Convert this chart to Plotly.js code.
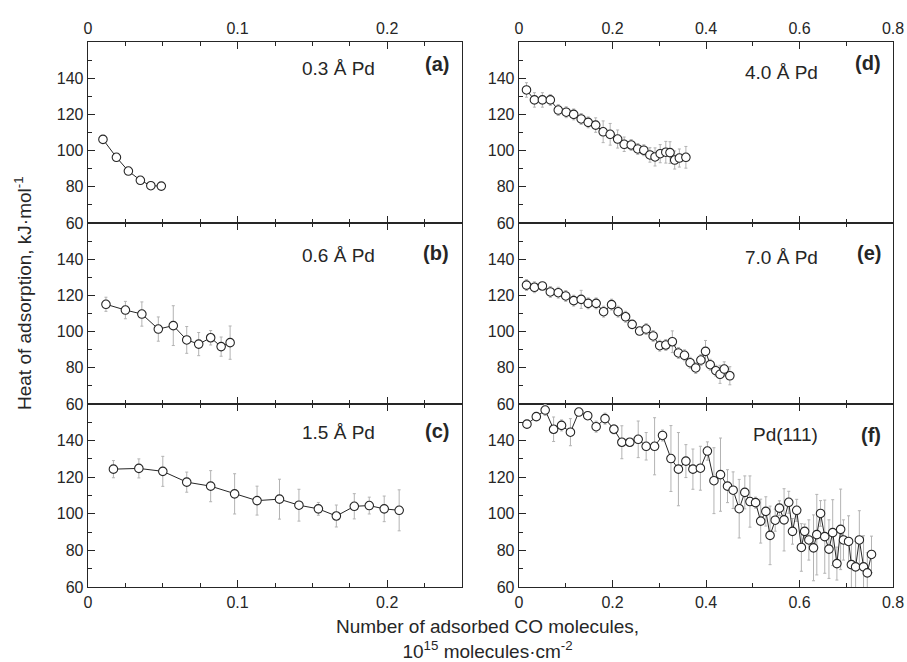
<!DOCTYPE html>
<html>
<head>
<meta charset="utf-8">
<script src="https://cdn.plot.ly/plotly-3.0.1.min.js"></script>
<style>html,body{margin:0;padding:0;background:#fff;}#chart{width:907px;height:662px;}</style>
</head>
<body>
<div id="chart"></div>
<script>
// Panel (a) 0.3 Å Pd
const xA = [0.010, 0.019, 0.027, 0.035, 0.042, 0.049];
const yA = [106.2, 96.3, 88.7, 83.6, 80.6, 80.4];

// Panel (b) 0.6 Å Pd
const xB = [0.012, 0.025, 0.036, 0.047, 0.057, 0.066, 0.074, 0.082, 0.089, 0.095];
const yB = [115.1, 111.9, 109.7, 101.4, 103.3, 95.4, 93.1, 96.6, 91.7, 93.9];
const eB = [3.9, 4.8, 6.7, 6.7, 11, 7.4, 6.4, 4, 5.3, 9.2];

// Panel (c) 1.5 Å Pd
const xC = [0.017, 0.034, 0.050, 0.066, 0.082, 0.098, 0.113, 0.128, 0.141, 0.154, 0.166, 0.178, 0.188, 0.198, 0.208];
const yC = [124.4, 124.8, 123.2, 117.3, 115.1, 110.9, 107.2, 108, 104.7, 102.7, 98.8, 104.1, 104.5, 102.7, 101.9];
const eC = [4.7, 5.2, 8.2, 5.5, 8.5, 11, 7.9, 10.9, 8.7, 3.5, 6, 6.9, 4.6, 7, 11.2];

// Panel (d) 4.0 Å Pd
const xD = [0.016, 0.033, 0.050, 0.067, 0.084, 0.101, 0.117, 0.133, 0.148, 0.164, 0.180, 0.195, 0.211, 0.225, 0.240, 0.254, 0.267, 0.280, 0.291, 0.302, 0.314, 0.323, 0.333, 0.343, 0.357];
const yD = [133.5, 128, 128, 128, 122.4, 121.2, 120, 117.5, 115.6, 114.1, 110.4, 109, 106.4, 103.5, 103.1, 100.9, 100.2, 97.6, 96.5, 98.3, 99.1, 98.9, 94.8, 95.9, 96.3];
const eD = [4, 4, 4, 3, 3, 3, 3, 3, 3, 4, 6, 6, 5, 4, 3, 3, 3, 4, 5, 5, 6, 6, 5, 5, 6];

// Panel (e) 7.0 Å Pd
const xE = [0.016, 0.033, 0.050, 0.067, 0.084, 0.100, 0.117, 0.133, 0.148, 0.165, 0.181, 0.198, 0.212, 0.228, 0.242, 0.258, 0.272, 0.287, 0.301, 0.314, 0.328, 0.341, 0.354, 0.366, 0.378, 0.389, 0.399, 0.409, 0.421, 0.430, 0.439, 0.451];
const yE = [125.7, 124.5, 125.2, 121.9, 121.5, 119.7, 117.1, 117.8, 115.6, 115.6, 111, 114.9, 111, 108.2, 104, 100.3, 101.4, 97.6, 92.2, 92.6, 94.4, 88.2, 86.9, 82.8, 79.9, 84.3, 89.1, 81.7, 78.4, 76.4, 79.3, 75.6];
const eE = [3, 3, 2, 3, 3, 3, 3, 5, 3, 3, 3, 3, 3, 3, 2, 2, 3, 3, 3, 3, 6, 3, 3, 3, 3, 3, 6, 3, 3, 5, 4, 5];

// Panel (f) Pd(111)
const xF = [0.017, 0.037, 0.056, 0.074, 0.091, 0.110, 0.128, 0.147, 0.165, 0.184, 0.203, 0.220, 0.237, 0.255, 0.272, 0.290, 0.307, 0.325, 0.341, 0.357, 0.372, 0.388, 0.403,
            0.417, 0.431, 0.446, 0.458, 0.471, 0.483, 0.494, 0.506, 0.517, 0.528, 0.537, 0.548, 0.557, 0.567, 0.577, 0.585, 0.594, 0.604, 0.611, 0.620, 0.630, 0.637, 0.645, 0.654, 0.663, 0.671, 0.680, 0.688, 0.694, 0.705, 0.711, 0.720, 0.728, 0.737, 0.745, 0.754];
const yF = [149, 153.1, 156.7, 146.2, 148.3, 144.6, 155.6, 153.6, 147.6, 152, 146.2, 139.1, 139.1, 140.7, 136.9, 136.9, 142.8, 130.2, 124.4, 128.8, 124.4, 124.9, 134.3,
            118.1, 121.4, 115.1, 112.9, 102.8, 111.7, 106.7, 106.1, 96, 101.3, 88.2, 96.5, 103.1, 96.7, 106.3, 90.4, 101.9, 81.6, 90.4, 85.7, 81.4, 88.6, 100.2, 87.5, 80.7, 89.7, 72.8, 91.5, 85.7, 84.9, 72.2, 71, 85.7, 71, 67.7, 77.8];
const eF = [2, 2, 3, 6.7, 3, 7.4, 2, 2, 3, 3, 2.5, 9, 2, 10, 7.5, 15.6, 3, 18, 20, 9, 11, 12, 5,
            18, 20, 9, 10, 16, 9, 14, 3, 12, 8, 16, 6, 4, 17, 6, 7, 6, 13, 4, 11, 18, 22, 7, 20, 16, 18, 9, 22, 11, 14, 13, 14, 16, 17, 11, 10];

const panelNames = ['0.3 Å Pd', '0.6 Å Pd', '1.5 Å Pd', '4.0 Å Pd', '7.0 Å Pd', 'Pd(111)'];
const panelLetters = ['(a)', '(b)', '(c)', '(d)', '(e)', '(f)'];

const FONT = 'Liberation Sans, Arial, Helvetica, sans-serif';
const INK = '#262626';

const series = [
  [xA, yA, null], [xB, yB, eB], [xC, yC, eC],
  [xD, yD, eD], [xE, yE, eE], [xF, yF, eF]
];

const traces = series.map((s, i) => {
  const t = {
    x: s[0], y: s[1], type: 'scatter', mode: 'lines+markers',
    xaxis: i === 0 ? 'x' : 'x' + (i + 1),
    yaxis: i === 0 ? 'y' : 'y' + (i + 1),
    line: {color: INK, width: 1},
    marker: {symbol: 'circle', size: 8.5, color: '#ffffff', line: {color: INK, width: 1.1}},
    showlegend: false, hoverinfo: 'x+y'
  };
  if (s[2]) t.error_y = {type: 'data', array: s[2], visible: true, color: '#b3b3b3', thickness: 1, width: 1.5};
  return t;
});

const W = 907, H = 662;
const colX = [[88 / W, 462 / W], [519 / W, 893 / W]];
const rowY = [[1 - 223 / H, 1 - 42 / H], [1 - 404 / H, 1 - 223 / H], [1 - 587 / H, 1 - 404 / H]];

const layout = {
  width: W, height: H,
  margin: {l: 0, r: 0, t: 0, b: 0},
  paper_bgcolor: '#ffffff', plot_bgcolor: '#ffffff',
  font: {family: FONT, size: 16, color: INK},
  showlegend: false,
  annotations: []
};

for (let i = 0; i < 6; i++) {
  const col = i < 3 ? 0 : 1;
  const row = i % 3;
  const xk = i === 0 ? 'xaxis' : 'xaxis' + (i + 1);
  const yk = i === 0 ? 'yaxis' : 'yaxis' + (i + 1);
  const yName = i === 0 ? 'y' : 'y' + (i + 1);
  const xName = i === 0 ? 'x' : 'x' + (i + 1);
  const left = col === 0;
  layout[xk] = {
    domain: colX[col], anchor: yName,
    range: left ? [0, 0.25] : [0, 0.8],
    tickmode: 'linear', tick0: 0, dtick: left ? 0.1 : 0.2,
    side: row === 0 ? 'top' : 'bottom',
    showticklabels: row !== 1,
    ticks: 'inside', ticklen: 7, tickwidth: 1, tickcolor: INK,
    minor: {tickmode: 'linear', tick0: 0, dtick: left ? 0.025 : 0.1, ticks: 'inside', ticklen: 4, tickwidth: 1, tickcolor: INK},
    showline: true, linecolor: INK, linewidth: 1.3, mirror: 'ticks',
    showgrid: false, zeroline: false,
    tickfont: {family: FONT, size: 16, color: INK}
  };
  layout[yk] = {
    domain: rowY[row], anchor: xName,
    range: [60, 160],
    tickmode: 'array', tickvals: [60, 80, 100, 120, 140],
    ticks: 'inside', ticklen: 7, tickwidth: 1, tickcolor: INK,
    minor: {tickmode: 'linear', tick0: 60, dtick: 10, ticks: 'inside', ticklen: 4, tickwidth: 1, tickcolor: INK},
    showline: true, linecolor: INK, linewidth: 1.3, mirror: true,
    showgrid: false, zeroline: false,
    tickfont: {family: FONT, size: 16, color: INK}
  };
}

const nameY = [145.6, 141.8, 144.4, 143.4, 140.7, 143.3];
const letterY = [147.8, 143.4, 145.5, 148.4, 143.7, 143.3];
for (let i = 0; i < 6; i++) {
  const left = i < 3;
  const xName = i === 0 ? 'x' : 'x' + (i + 1);
  const yName = i === 0 ? 'y' : 'y' + (i + 1);
  layout.annotations.push({
    xref: xName, yref: yName, x: left ? 0.1933 : 0.6439, y: nameY[i],
    xanchor: 'right', yanchor: 'middle', showarrow: false,
    text: panelNames[i], font: {family: FONT, size: 19, color: INK}
  });
  layout.annotations.push({
    xref: xName, yref: yName, x: left ? 0.2425 : 0.779, y: letterY[i],
    xanchor: 'right', yanchor: 'middle', showarrow: false,
    text: '<b>' + panelLetters[i] + '</b>', font: {family: FONT, size: 20, color: INK}
  });
}

layout.annotations.push({
  xref: 'paper', yref: 'paper', x: 488 / W, y: 1 - 639 / H,
  xanchor: 'center', yanchor: 'middle', showarrow: false,
  text: 'Number of adsorbed CO molecules,<br>10<sup>15</sup> molecules·cm<sup>-2</sup>',
  font: {family: FONT, size: 19, color: INK}
});
layout.annotations.push({
  xref: 'paper', yref: 'paper', x: 23 / W, y: 1 - 293 / H,
  xanchor: 'center', yanchor: 'middle', showarrow: false, textangle: -90,
  text: 'Heat of adsorption, kJ·mol<sup>-1</sup>',
  font: {family: FONT, size: 19, color: INK}
});

Plotly.newPlot('chart', traces, layout, {staticPlot: true, displayModeBar: false});
</script>
</body>
</html>
